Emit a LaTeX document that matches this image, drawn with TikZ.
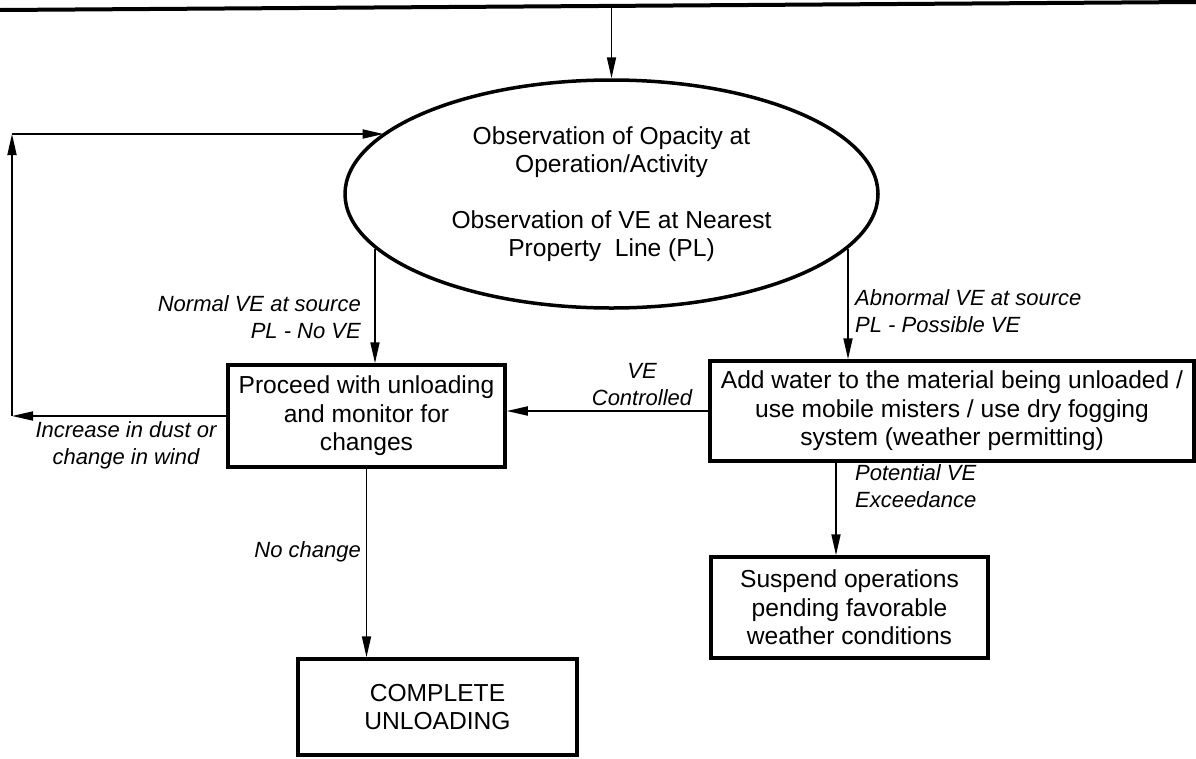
\documentclass[tikz,border=0pt]{standalone}
\usepackage{fontspec}
\setmainfont{Liberation Sans}
\usetikzlibrary{arrows.meta,shapes.geometric}
\begin{document}
\begin{tikzpicture}[x=1pt,y=-1pt,
  boxtext/.style={font=\fontsize{24.6}{28.5}\selectfont, align=center},
  stepbox/.style={draw, line width=3.5pt, boxtext, inner sep=0pt},
  lbl/.style={font=\fontsize{22}{27}\selectfont\itshape, inner sep=0pt},
  flow/.style={line width=1.8pt, -{Triangle[length=21pt,width=9pt]}},
]
\useasboundingbox (0,0) rectangle (1196,758);

% incoming rule at the top of the sheet
\draw[line width=4pt] (0,10) -- (1196,2);
\coordinate (feed) at (611.5,6);

% observation step
\node[draw, ellipse, line width=3.5pt, inner sep=0pt,
      font=\fontsize{24.6}{27.5}\selectfont, align=center,
      minimum width=533pt, minimum height=228pt] (obs) at (611.5,194)
  {Observation of Opacity at\\Operation/Activity\\[29pt]Observation of VE at Nearest\\Property\ \ Line (PL)};

% action boxes
\node[stepbox, minimum width=277pt, minimum height=102pt] (pro) at (366.5,416)
  {Proceed with unloading\\and monitor for\\changes};
\node[stepbox, minimum width=484pt, minimum height=100pt] (add) at (952,411)
  {Add water to the material being unloaded /\\use mobile misters / use dry fogging\\system (weather permitting)};
\node[stepbox, minimum width=277pt, minimum height=101pt] (sus) at (849.5,607.5)
  {Suspend operations\\pending favorable\\weather conditions};
\node[stepbox, minimum width=279pt, minimum height=96pt] (comp) at (437.5,707)
  {COMPLETE\\UNLOADING};

% connectors
\draw[flow] (feed) -- (obs.north);
\draw[flow] (obs.193) -- (obs.193 |- pro.north);
\draw[flow] (obs.347) -- (obs.347 |- add.north);

\coordinate (loopL) at (12,416);
\coordinate (loopT) at (12,134);
\draw[flow] (pro.west) -- (loopL);
\draw[flow] (loopL) -- (loopT);
\draw[flow] (loopT) -- (loopT -| obs.165);

\draw[flow] (add.west) -- (add.west -| pro.east);
\draw[flow] (pro.south) -- (pro.south |- comp.north);
\coordinate (susin) at ([xshift=-13.5pt]sus.north);
\draw[flow] (susin |- add.south) -- (susin);

% connector labels
\node[lbl, anchor=east, align=right] (lnormal) at (361,317) {Normal VE at source\\PL - No VE};
\node[lbl, anchor=west, align=left] (labn) at (855,311) {Abnormal VE at source\\PL - Possible VE};
\node[lbl, align=center] (lincr) at (126,445) {Increase in dust or\\change in wind};
\node[lbl, align=center] (lvec) at (642,385) {VE\\Controlled};
\node[lbl, anchor=west, align=left] (lpot) at (855,486.5) {Potential VE\\Exceedance};
\node[lbl, anchor=east] (lnoch) at (361,552) {No change};
\end{tikzpicture}
\end{document}
